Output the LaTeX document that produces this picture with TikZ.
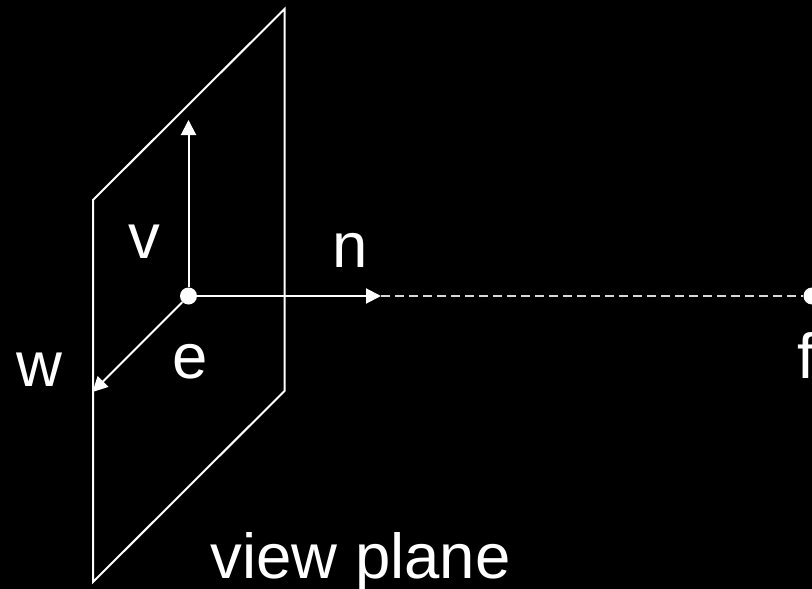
\documentclass[tikz,border=0pt]{standalone}
\usepackage{fontspec}
\setmainfont{Liberation Sans}
\usetikzlibrary{arrows.meta}
\tikzset{
  every node/.style={text=white,inner sep=0pt},
  axis/.style={draw=white,line width=2pt,-{Triangle[length=15pt,width=15pt]}},
  dot/.style={circle,fill=white,minimum size=17pt},
  lbl/.style={font=\fontsize{63.5pt}{63.5pt}\selectfont,anchor=base}
}
\begin{document}
\begin{tikzpicture}[x=1pt,y=-1pt]
\useasboundingbox[fill=black] (0,0) rectangle (812,589);
  % view plane
  \coordinate (p1) at (93,200);
  \coordinate (p2) at (284.5,9);
  \coordinate (p3) at (284.5,391);
  \coordinate (p4) at (93,582);
  \draw[white,line width=2pt,line join=miter] (p1) -- (p2) -- (p3) -- (p4) -- cycle;

  \node[dot] (e) at (188.5,296) {};
  \node[dot] (f) at (812,296) {};
  \coordinate (vtip) at (188.5,120);
  \coordinate (ntip) at (381,296);
  \coordinate (wtip) at (92.5,392);

  % dashed part
  \draw[white!85!black,line width=2pt,dash pattern=on 9pt off 5pt] (ntip) -- (f);
  \draw[axis] (e) -- (vtip);
  \draw[axis] (e) -- (ntip);
  \draw[axis] (e) -- (wtip);

  \node[lbl] (v) at (144.5,258) {v};
  \node[lbl] (n) at (350.5,267) {n};
  \node[lbl] (w) at (39,386) {w};
  \node[lbl] (elabel) at (190,378) {e};
  \node[lbl] (flabel) at (806,378) {f};
  \node[lbl] (plane) at (360.5,578) {view plane};
\end{tikzpicture}
\end{document}
